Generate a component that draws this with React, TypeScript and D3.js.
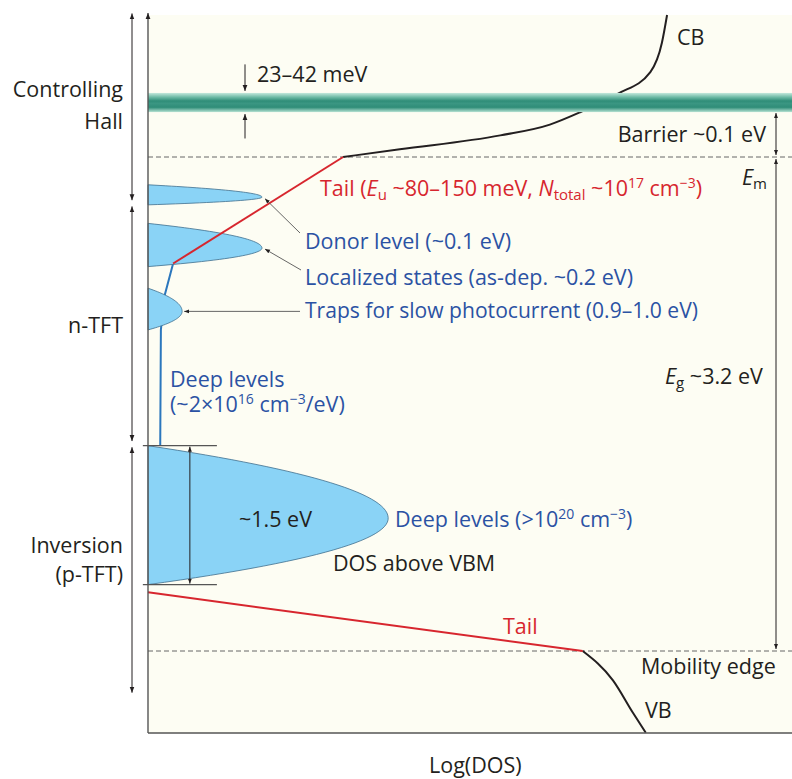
import React from 'react';
import * as d3 from 'd3';

const W = 792;
const H = 779;
const FONT = "'Open Sans', 'Noto Sans', sans-serif";
const FS = 21.5;

// Energy reference levels (eV, measured from the valence mobility edge)
const mobilityEdgeE = 0;
const emE = 3.2;
const hallBand = { center: 3.553, half: 0.062 };

// Curves: [log DOS (arb. decades), energy (eV)]
const cbCurve: [number, number][] = [
  [3.03, 3.2], [3.91, 3.25], [5.47, 3.34], [6.24, 3.41], [6.71, 3.49],
  [7.3, 3.61], [7.8, 3.75], [7.98, 3.94], [8.06, 4.12],
];
const upperTail: [number, number][] = [[0.39, 2.51], [3.03, 3.2]];
const deepLevelLine: [number, number][] = [[0.39, 2.51], [0.25, 2.29], [0.2, 2.08], [0.19, 1.33]];
const lowerTail: [number, number][] = [[0, 0.38], [6.75, 0]];
const vbCurve: [number, number][] = [[6.75, 0], [7.22, -0.19], [7.53, -0.4], [7.73, -0.53]];

// Gaussian DOS lobes (parabolic in log scale)
const lobeNames = ['Donor', 'Localized', 'Traps', 'Deep'];
const lobePeakDos = [1.77, 1.77, 0.53, 3.73];
const lobePeakE = [2.94, 2.61, 2.2, 0.86];
const lobeTopE = [3.02, 2.77, 2.35, 1.33];
const lobeBottomE = [2.89, 2.49, 2.08, 0.43];

// Region arrows on the left
const regionTopE = [4.13, 2.88, 1.32];
const regionBottomE = [2.92, 1.36, -0.27];

const x = d3.scaleLinear().domain([0, 10]).range([148, 792]);
const y = d3.scaleLinear().domain([0, 3.2]).range([651, 157]);

const line = d3.line<[number, number]>().x((d) => x(d[0])).y((d) => y(d[1]));
const smooth = d3
  .line<[number, number]>()
  .x((d) => x(d[0]))
  .y((d) => y(d[1]))
  .curve(d3.curveMonotoneX);

function lobePath(i: number) {
  const pk = lobePeakDos[i];
  const pe = lobePeakE[i];
  const pts: [number, number][] = [];
  const n = 60;
  for (let k = 0; k <= n; k++) {
    const e = lobeTopE[i] - ((lobeTopE[i] - lobeBottomE[i]) * k) / n;
    const edge = e >= pe ? lobeTopE[i] : lobeBottomE[i];
    const f = (e - pe) / (edge - pe);
    pts.push([Math.max(0, pk * (1 - f * f)), e]);
  }
  return line(pts) + 'Z';
}

const BLUE_TXT = '#2b52a3';
const RED = '#d7262e';
const INK = '#231f20';
const GRAY = '#555';
const SUB = 15;
const SUP = 14;

export default function App() {
  const axisX = x(0);
  const right = x(10);
  const arrowX = 132;
  const gapArrowX = 776;
  const bandTop = y(hallBand.center + hallBand.half);
  const bandBot = y(hallBand.center - hallBand.half);
  const deepIdx = 3;
  return (
    <svg
      width={W}
      height={H}
      style={{ position: 'absolute', left: 0, top: 0, background: '#fff' }}
      fontFamily={FONT}
      fontSize={FS}
    >
      <defs>
        <marker id="ah" viewBox="0 0 10 10" refX="10" refY="5" markerWidth="6" markerHeight="6"
          orient="auto-start-reverse" markerUnits="userSpaceOnUse">
          <path d="M0,1 L10,5 L0,9 Z" fill={INK} />
        </marker>
        <marker id="ahs" viewBox="0 0 10 10" refX="10" refY="5" markerWidth="5" markerHeight="5"
          orient="auto-start-reverse" markerUnits="userSpaceOnUse">
          <path d="M0,1 L10,5 L0,9 Z" fill={INK} />
        </marker>
        <linearGradient id="band" x1="0" y1="0" x2="0" y2="1">
          <stop offset="0" stopColor="#c4e8dc" />
          <stop offset="0.22" stopColor="#6dbaa5" />
          <stop offset="0.42" stopColor="#2f8d78" />
          <stop offset="0.55" stopColor="#3a9682" />
          <stop offset="0.75" stopColor="#2f8d78" />
          <stop offset="1" stopColor="#b6e2d3" />
        </linearGradient>
      </defs>

      {/* plot background */}
      <rect x={axisX} y={15} width={right - axisX} height={733 - 15} fill="#fdfdf3" />

      {/* dashed reference levels */}
      {[emE, mobilityEdgeE].map((e) => (
        <line key={e} x1={axisX} x2={right} y1={y(e)} y2={y(e)} stroke="#666" strokeWidth={1}
          strokeDasharray="5,3" />
      ))}

      {/* deep level line (under lobes) */}
      <path d={line(deepLevelLine) || ''} fill="none" stroke="#2b77bd" strokeWidth={2} />

      {/* lobes */}
      {lobeNames.map((n, i) => (
        <path key={n} d={lobePath(i)} fill="#8ad3f6" stroke="#3f6f8e" strokeWidth={0.8} />
      ))}

      {/* CB curve */}
      <path d={smooth(cbCurve) || ''} fill="none" stroke={INK} strokeWidth={2} />
      {/* VB curve */}
      <path d={smooth(vbCurve) || ''} fill="none" stroke={INK} strokeWidth={2} />
      {/* tails */}
      <path d={line(upperTail) || ''} fill="none" stroke={RED} strokeWidth={2} />
      <path d={line(lowerTail) || ''} fill="none" stroke={RED} strokeWidth={2} />

      {/* Hall band */}
      <rect x={axisX} y={bandTop} width={right - axisX} height={bandBot - bandTop} fill="url(#band)" />

      {/* 23-42 meV arrows */}
      <line x1={245} x2={245} y1={y(3.8)} y2={bandTop - 2} stroke={INK} strokeWidth={1} markerEnd="url(#ah)" />
      <line x1={245} x2={245} y1={y(3.32)} y2={bandBot + 2} stroke={INK} strokeWidth={1} markerEnd="url(#ah)" />

      {/* big lobe extent marks */}
      {[lobeTopE[deepIdx], lobeBottomE[deepIdx]].map((e) => (
        <line key={e} x1={x(-0.08)} x2={x(1.07)} y1={y(e)} y2={y(e)} stroke={GRAY} strokeWidth={1.2} />
      ))}
      <line x1={x(0.65)} x2={x(0.65)} y1={y(lobeTopE[deepIdx]) + 1} y2={y(lobeBottomE[deepIdx]) - 1}
        stroke={INK} strokeWidth={1} markerStart="url(#ahs)" markerEnd="url(#ahs)" />

      {/* leaders */}
      <line x1={300} y1={233} x2={x(lobePeakDos[0]) + 3} y2={y(lobePeakE[0]) + 1.5} stroke={GRAY}
        strokeWidth={0.9} markerEnd="url(#ahs)" />
      <line x1={301} y1={270} x2={x(lobePeakDos[1]) + 3} y2={y(lobePeakE[1]) + 1} stroke={GRAY}
        strokeWidth={0.9} markerEnd="url(#ahs)" />
      <line x1={300} y1={y(lobePeakE[2])} x2={x(lobePeakDos[2]) + 2} y2={y(lobePeakE[2])} stroke={GRAY}
        strokeWidth={0.9} markerEnd="url(#ahs)" />

      {/* axes */}
      <line x1={axisX} x2={axisX} y1={733} y2={13} stroke="#555" strokeWidth={1.4} markerEnd="url(#ah)" />
      <line x1={axisX} x2={right} y1={733} y2={733} stroke="#555" strokeWidth={1.4} />

      {/* region arrows */}
      {regionTopE.map((t, i) => (
        <line key={i} x1={arrowX} x2={arrowX} y1={y(t)} y2={y(regionBottomE[i])} stroke={INK}
          strokeWidth={1} markerStart="url(#ah)" markerEnd="url(#ah)" />
      ))}

      {/* gap arrows */}
      <line x1={gapArrowX} x2={gapArrowX} y1={bandBot + 1} y2={y(emE) - 2} stroke={INK} strokeWidth={1}
        markerStart="url(#ahs)" markerEnd="url(#ahs)" />
      <line x1={gapArrowX} x2={gapArrowX} y1={y(emE) + 2} y2={y(mobilityEdgeE) - 2} stroke={INK}
        strokeWidth={1} markerStart="url(#ahs)" markerEnd="url(#ahs)" />

      {/* left labels */}
      <g fill={INK} textAnchor="end">
        <text x={123} y={97}>Controlling</text>
        <text x={123} y={129}>Hall</text>
        <text x={123} y={333}>n-TFT</text>
        <text x={123} y={553}>Inversion</text>
        <text x={123} y={582}>(p-TFT)</text>
      </g>

      <g fill={INK}>
        <text x={257} y={82}>23–42 meV</text>
        <text x={677} y={45}>CB</text>
        <text x={766} y={142} textAnchor="end">Barrier ~0.1 eV</text>
        <text x={742} y={185}>
          <tspan fontStyle="italic">E</tspan>
          <tspan fontSize={SUB} dy={4}>m</tspan>
        </text>
        <text x={665} y={384}>
          <tspan fontStyle="italic">E</tspan>
          <tspan fontSize={SUB} dy={4}>g</tspan>
          <tspan dy={-4}> ~3.2 eV</tspan>
        </text>
        <text x={239} y={527}>~1.5 eV</text>
        <text x={333} y={571}>DOS above VBM</text>
        <text x={641} y={674}>Mobility edge</text>
        <text x={645} y={718}>VB</text>
        <text x={429} y={773}>Log(DOS)</text>
      </g>

      <g fill={RED}>
        <text x={320} y={196}>
          Tail (<tspan fontStyle="italic">E</tspan>
          <tspan fontSize={SUB} dy={4}>u</tspan>
          <tspan dy={-4}> ~80–150 meV, </tspan>
          <tspan fontStyle="italic">N</tspan>
          <tspan fontSize={SUB} dy={4}>total</tspan>
          <tspan dy={-4}> ~10</tspan>
          <tspan fontSize={SUP} dy={-8}>17</tspan>
          <tspan dy={8}> cm</tspan>
          <tspan fontSize={SUP} dy={-8}>−3</tspan>
          <tspan dy={8}>)</tspan>
        </text>
        <text x={503} y={634}>Tail</text>
      </g>

      <g fill={BLUE_TXT}>
        <text x={305} y={249}>Donor level (~0.1 eV)</text>
        <text x={305} y={285}>Localized states (as-dep. ~0.2 eV)</text>
        <text x={305} y={318} textLength={393} lengthAdjust="spacingAndGlyphs">
          Traps for slow photocurrent (0.9–1.0 eV)
        </text>
        <text x={170} y={387}>Deep levels</text>
        <text x={170} y={412}>
          (~2×10<tspan fontSize={SUP} dy={-8}>16</tspan>
          <tspan dy={8}> cm</tspan>
          <tspan fontSize={SUP} dy={-8}>−3</tspan>
          <tspan dy={8}>/eV)</tspan>
        </text>
        <text x={395} y={527}>
          Deep levels (&gt;10<tspan fontSize={SUP} dy={-8}>20</tspan>
          <tspan dy={8}> cm</tspan>
          <tspan fontSize={SUP} dy={-8}>−3</tspan>
          <tspan dy={8}>)</tspan>
        </text>
      </g>
    </svg>
  );
}
